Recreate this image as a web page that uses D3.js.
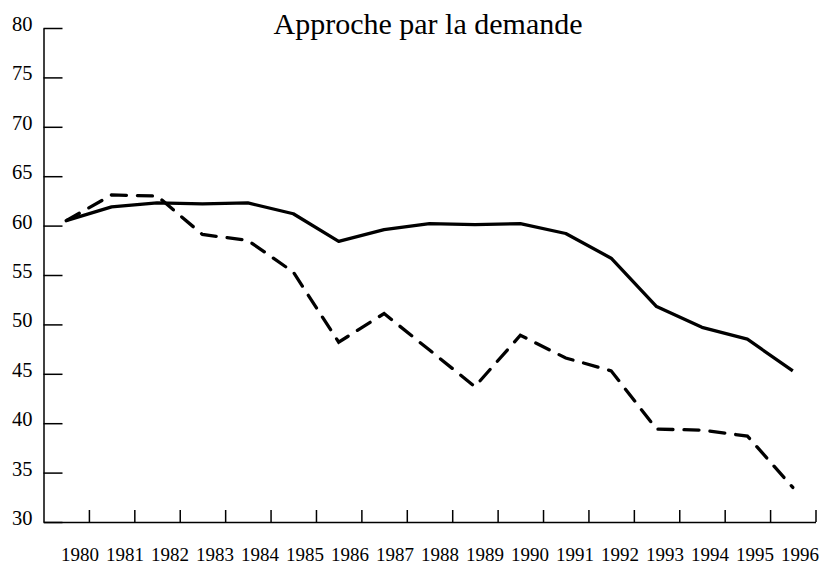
<!DOCTYPE html>
<html>
<head>
<meta charset="utf-8">
<script src="https://cdn.jsdelivr.net/npm/d3@7"></script>
<style>
  body { margin: 0; background: #fff; }
  svg { display: block; }
  svg text { font-family: "Liberation Serif", "DejaVu Serif", serif; fill: #000; }
</style>
</head>
<body>
<div id="chart"></div>
<script>
const years = [1980, 1981, 1982, 1983, 1984, 1985, 1986, 1987, 1988,
  1989, 1990, 1991, 1992, 1993, 1994, 1995, 1996];
const solidValues = [60.5, 61.9, 62.3, 62.2, 62.3, 61.2, 58.4, 59.6, 60.2,
  60.1, 60.2, 59.2, 56.7, 51.8, 49.7, 48.5, 45.3];
const dashedValues = [60.5, 63.1, 63.0, 59.1, 58.5, 55.3, 48.2, 51.1, 47.4,
  43.7, 48.9, 46.6, 45.3, 39.4, 39.3, 38.7, 33.5];
const yTicks = [30, 35, 40, 45, 50, 55, 60, 65, 70, 75, 80];
const title = "Approche par la demande";

const width = 822, height = 566;
const plot = { left: 43.5, right: 815.5, top: 28, bottom: 522 };

const svg = d3.select("#chart").append("svg")
  .attr("width", width)
  .attr("height", height);

// index scale: one slot per year, ticks on slot edges
const x = d3.scaleLinear().domain([0, years.length]).range([plot.left, plot.right]);
const xLabel = d3.scalePoint().domain(years).range([80, 800]);
const y = d3.scaleLinear().domain([30, 80]).range([plot.bottom, plot.top]);

svg.append("text")
  .attr("x", 428)
  .attr("y", 33.5)
  .attr("text-anchor", "middle")
  .style("font-size", "30px")
  .text(title);

const yAxis = svg.append("g")
  .attr("transform", `translate(${plot.left},0)`)
  .call(d3.axisLeft(y).tickValues(yTicks).tickSizeInner(-19).tickSizeOuter(0).tickPadding(11));
yAxis.selectAll("path, line").attr("stroke", "#000").attr("stroke-width", 1.5);
yAxis.selectAll("text")
  .attr("dy", "0.12em")
  .style("font-size", "20.5px");

const xAxis = svg.append("g")
  .attr("transform", `translate(0,${plot.bottom})`)
  .call(d3.axisBottom(x).tickValues(d3.range(1, years.length + 1))
    .tickSizeInner(-12).tickSizeOuter(0).tickFormat(""));
xAxis.selectAll("path, line").attr("stroke", "#000").attr("stroke-width", 1.5);

svg.append("g")
  .selectAll("text")
  .data(years)
  .enter()
  .append("text")
  .attr("x", (d) => xLabel(d))
  .attr("y", 561)
  .attr("text-anchor", "middle")
  .style("font-size", "19px")
  .text((d) => d);

const line = d3.line()
  .x((d, i) => x(i + 0.5))
  .y((d) => y(d));

svg.append("path")
  .datum(solidValues)
  .attr("fill", "none")
  .attr("stroke", "#000")
  .attr("stroke-width", 3.3)
  .attr("stroke-linejoin", "round")
  .attr("d", line);

svg.append("path")
  .datum(dashedValues)
  .attr("fill", "none")
  .attr("stroke", "#000")
  .attr("stroke-width", 3.3)
  .attr("stroke-linecap", "round")
  .attr("stroke-dasharray", "15,11")
  .attr("d", line);
</script>
</body>
</html>
